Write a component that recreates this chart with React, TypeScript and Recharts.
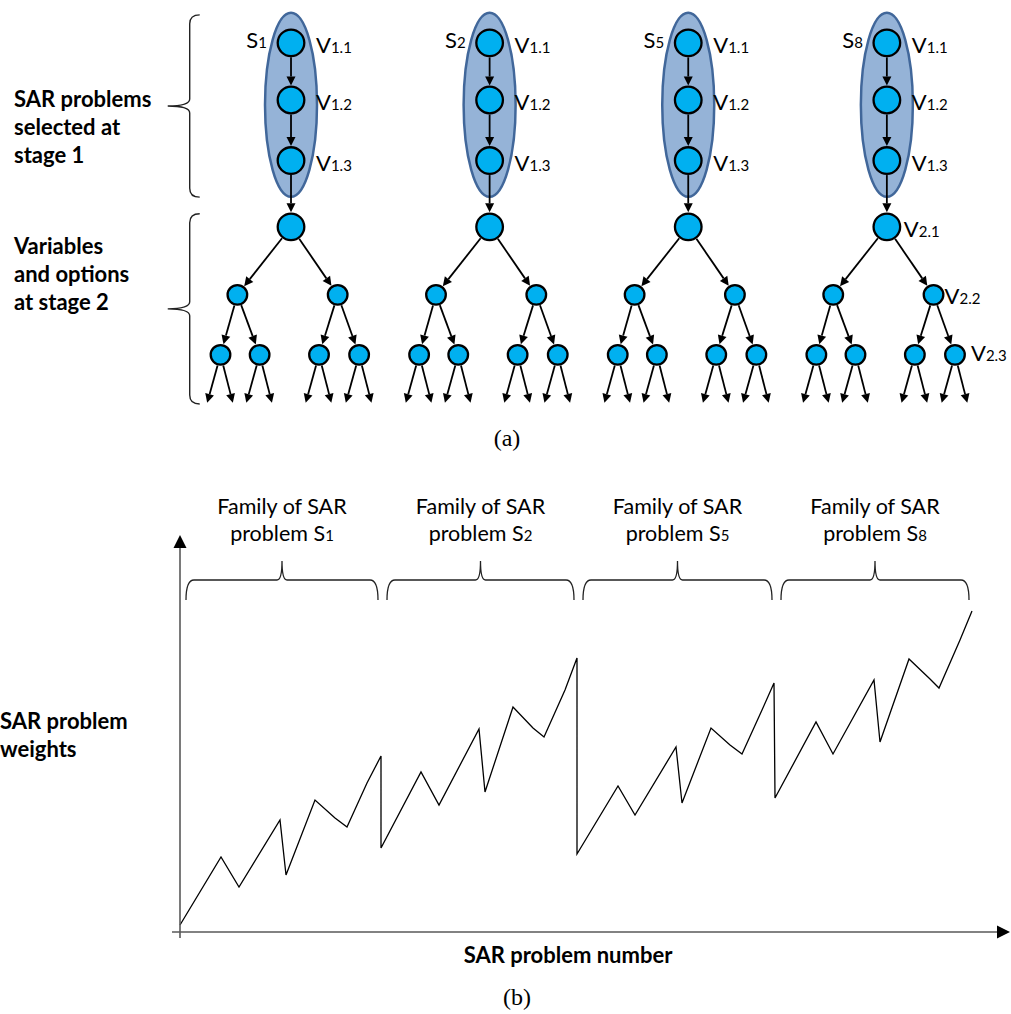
import React from "react";
import { ComposedChart, Scatter, Line, XAxis, YAxis } from "recharts";

// ---- shared labels ----
const FAMILY_IDS = ["1", "2", "5", "8"];
const STAGE1_VARS = ["1.1", "1.2", "1.3"];
const STAGE2_VARS = ["2.1", "2.2", "2.3"];

// ---- panel (b): problem number vs weight ----
const F1_X = [0, 41, 59, 100, 106, 135, 155, 167, 187, 201];
const F1_W = [7, 75, 45, 112, 57, 132, 114, 105, 149, 176];
const F2_X = [201, 241, 259, 299, 305, 333, 353, 364, 385, 397];
const F2_W = [84, 160, 127, 203, 140, 225, 204, 195, 242, 274];
const F3_X = [397, 438, 455, 496, 502, 531, 550, 562, 582, 594];
const F3_W = [78, 146, 117, 185, 129, 204, 187, 178, 222, 249];
const F4_X = [595, 636, 653, 694, 700, 729, 750, 759, 780, 792];
const F4_W = [134, 210, 178, 252, 190, 273, 253, 244, 292, 321];
const FAMILY_START = [0, 201, 397, 595];
const FAMILY_END = [201, 397, 595, 792];

const X_MAX = 830;
const W_MAX = 400;
const BRACE_W = 352;
const Y_ARROW_TOP = 397;

// ---- panel (a): tree layout (x in family spacing, y in rows) ----
const ROW_V1 = [0, 1, 2.06];
const ROW_ROOT = 3.22;
const ROW_L2 = 4.41;
const ROW_L3 = 5.46;
const ROW_LEAF = 6.3;
const ELLIPSE_ROW = 1.085;
const L2_DX = [-0.27, 0.235];
const L3_DX = [
  [-0.355, -0.158],
  [0.141, 0.343],
];
const LEAF_DX = [-0.067, 0.062];
const BRACKET_X = -0.51;
const BRACKET_ROWS = [
  [-0.49, 2.7],
  [2.99, 6.32],
];

const FONT = "Lato, 'Noto Sans', sans-serif";
const SERIF = "'Liberation Serif', 'DejaVu Serif', serif";
const NODE_FILL = "#00b0f0";
const ELLIPSE_FILL = "#95b3d7";
const ELLIPSE_STROKE = "#41679a";

type Pt = { x: number; y: number; r?: number };

// build nodes / edges of each family tree
const nodes: Pt[] = [];
const edgePts: Pt[] = [];
const ellipses: Pt[] = [];
FAMILY_IDS.forEach((_, f) => {
  const v1 = ROW_V1.map((y) => ({ x: f, y, r: 14.5 }));
  const root = { x: f, y: ROW_ROOT, r: 14.5 };
  const l2 = L2_DX.map((dx) => ({ x: f + dx, y: ROW_L2, r: 11 }));
  const l3 = L3_DX.flatMap((g) => g.map((dx) => ({ x: f + dx, y: ROW_L3, r: 11 })));
  ellipses.push({ x: f, y: ELLIPSE_ROW });
  nodes.push(...v1, root, ...l2, ...l3);
  const link = (a: Pt, b: Pt) => edgePts.push(a, b);
  link(v1[0], v1[1]);
  link(v1[1], v1[2]);
  link(v1[2], root);
  l2.forEach((n) => link(root, n));
  l3.forEach((n, i) => link(l2[Math.floor(i / 2)], n));
  l3.forEach((n) => LEAF_DX.forEach((dx) => link(n, { x: n.x + dx, y: ROW_LEAF, r: 0 })));
});

type Lbl = Pt & { main: string; sub: string; dx: number; dy: number; anchor: string };
const labels: Lbl[] = [];
FAMILY_IDS.forEach((id, f) => {
  labels.push({ x: f, y: ROW_V1[0], main: "S", sub: id, dx: -24, dy: -3, anchor: "end" });
  STAGE1_VARS.forEach((v, i) =>
    labels.push({ x: f, y: ROW_V1[i], main: "V", sub: v, dx: 25, dy: 2, anchor: "start" })
  );
});
const LAST = FAMILY_IDS.length - 1;
labels.push({ x: LAST, y: ROW_ROOT, main: "V", sub: STAGE2_VARS[0], dx: 17, dy: 2, anchor: "start" });
labels.push({ x: LAST + L2_DX[1], y: ROW_L2, main: "V", sub: STAGE2_VARS[1], dx: 11, dy: 1, anchor: "start" });
labels.push({ x: LAST + L3_DX[1][1], y: ROW_L3, main: "V", sub: STAGE2_VARS[2], dx: 16, dy: -2, anchor: "start" });

const bracketPts: Pt[] = BRACKET_ROWS.flatMap(([a, b]) => [
  { x: BRACKET_X, y: a },
  { x: BRACKET_X, y: b },
]);

const weightData = [F1_X, F2_X, F3_X, F4_X].flatMap((xs, f) =>
  xs.map((x, i) => ({ x, y: [F1_W, F2_W, F3_W, F4_W][f][i] }))
);
const axisPts: Pt[] = [
  { x: 0, y: 0 },
  { x: X_MAX, y: 0 },
  { x: 0, y: 0 },
  { x: 0, y: Y_ARROW_TOP },
];
const bracePts: Pt[] = FAMILY_START.flatMap((s, i) => [
  { x: s, y: BRACE_W },
  { x: FAMILY_END[i], y: BRACE_W },
]);

type ArrowOpt = { stroke: string; width: number; head: number; half: number; fill: string };
function arrow(a: Pt, b: Pt, r0: number, r1: number, key: string, o: ArrowOpt) {
  const dx = b.x - a.x;
  const dy = b.y - a.y;
  const len = Math.hypot(dx, dy) || 1;
  const ux = dx / len;
  const uy = dy / len;
  const sx = a.x + ux * r0;
  const sy = a.y + uy * r0;
  const tx = b.x - ux * r1;
  const ty = b.y - uy * r1;
  const bx = tx - ux * o.head;
  const by = ty - uy * o.head;
  const nx = -uy * o.half;
  const ny = ux * o.half;
  return (
    <g key={key}>
      <line x1={sx} y1={sy} x2={bx} y2={by} stroke={o.stroke} strokeWidth={o.width} />
      <polygon points={`${tx},${ty} ${bx + nx},${by + ny} ${bx - nx},${by - ny}`} fill={o.fill} />
    </g>
  );
}

const Empty = () => <g />;

const EllipseShape = (p: any) => (
  <ellipse cx={p.cx} cy={p.cy} rx={26} ry={92} fill={ELLIPSE_FILL} stroke={ELLIPSE_STROKE} strokeWidth={2.5} />
);

const NodeShape = (p: any) => (
  <circle cx={p.cx} cy={p.cy} r={p.payload.r - 1.2} fill={NODE_FILL} stroke="#000" strokeWidth={2.3} />
);

const LabelShape = (p: any) => {
  const d = p.payload as Lbl;
  return (
    <text
      x={p.cx + d.dx}
      y={p.cy + d.dy + 8}
      textAnchor={d.anchor as any}
      fontFamily={FONT}
      fontSize={22}
      fill="#000"
    >
      {d.main}
      <tspan fontSize={15}>{d.sub}</tspan>
    </text>
  );
};

const edgeLines = (props: any) => {
  const p: Pt[] = props.points;
  const out = [];
  for (let i = 0; i + 1 < p.length; i += 2) {
    out.push(
      arrow(p[i], p[i + 1], edgePts[i].r ?? 0, edgePts[i + 1].r ?? 0, `e${i}`, {
        stroke: "#000",
        width: 1.8,
        head: 9,
        half: 4.5,
        fill: "#000",
      })
    );
  }
  return <g>{out}</g>;
};

const bracketLines = (props: any) => {
  const p: Pt[] = props.points;
  const out = [];
  for (let i = 0; i + 1 < p.length; i += 2) {
    const x = p[i].x;
    const y0 = p[i].y;
    const y1 = p[i + 1].y;
    const ym = (y0 + y1) / 2;
    const d = `M ${x + 10} ${y0} Q ${x} ${y0} ${x} ${y0 + 9} L ${x} ${ym - 7} Q ${x} ${ym} ${x - 22} ${ym} Q ${x} ${ym} ${x} ${ym + 7} L ${x} ${y1 - 9} Q ${x} ${y1} ${x + 10} ${y1}`;
    out.push(<path key={i} d={d} fill="none" stroke="#222" strokeWidth={1.4} />);
  }
  return <g>{out}</g>;
};

const axisLines = (props: any) => {
  const p: Pt[] = props.points;
  const o = { stroke: "#595959", width: 1.6, head: 13, half: 6.5, fill: "#000" };
  return (
    <g>
      {arrow(p[0], p[1], -8, 0, "ax", o)}
      {arrow(p[2], p[3], -6, 0, "ay", o)}
    </g>
  );
};

const braceLines = (props: any) => {
  const p: Pt[] = props.points;
  const out = [];
  for (let i = 0; i + 1 < p.length; i += 2) {
    const x0 = p[i].x + 6;
    const x1 = p[i + 1].x - 3;
    const y = p[i].y;
    const xc = (x0 + x1) / 2;
    const d = `M ${x0} ${y + 20} Q ${x0} ${y} ${x0 + 8} ${y} L ${xc - 5} ${y} Q ${xc} ${y} ${xc} ${y - 19} Q ${xc} ${y} ${xc + 5} ${y} L ${x1 - 8} ${y} Q ${x1} ${y} ${x1} ${y + 20}`;
    out.push(
      <g key={i}>
        <path d={d} fill="none" stroke="#222" strokeWidth={1.3} />
        <text x={xc} y={y - 66} textAnchor="middle" fontFamily={FONT} fontSize={21.5} fill="#000">
          Family of SAR
        </text>
        <text x={xc} y={y - 39} textAnchor="middle" fontFamily={FONT} fontSize={21.5} fill="#000">
          problem S<tspan fontSize={15}>{FAMILY_IDS[i / 2]}</tspan>
        </text>
      </g>
    );
  }
  return <g>{out}</g>;
};

const boldText: React.CSSProperties = {
  position: "absolute",
  fontFamily: FONT,
  fontWeight: 700,
  fontSize: 22,
  lineHeight: "28px",
  color: "#000",
  whiteSpace: "nowrap",
};

export default function App() {
  return (
    <div style={{ position: "absolute", left: 0, top: 0, width: 1011, height: 1014, background: "#fff" }}>
      <div style={{ position: "absolute", left: 0, top: 0 }}>
        <ComposedChart width={1011} height={420} margin={{ top: 0, right: 1, bottom: 0, left: 5 }}>
          <XAxis type="number" dataKey="x" domain={[-1.44, 3.62]} hide />
          <YAxis type="number" dataKey="y" domain={[-0.75, 6.6]} reversed hide />
          <Scatter data={ellipses} shape={EllipseShape} isAnimationActive={false} />
          <Scatter data={bracketPts} line={bracketLines} shape={Empty} isAnimationActive={false} />
          <Scatter data={edgePts} line={edgeLines} shape={Empty} isAnimationActive={false} />
          <Scatter data={nodes} shape={NodeShape} isAnimationActive={false} />
          <Scatter data={labels} shape={LabelShape} isAnimationActive={false} />
        </ComposedChart>
      </div>

      <div style={{ ...boldText, left: 14, top: 85 }}>
        SAR problems
        <br />
        selected at
        <br />
        stage 1
      </div>
      <div style={{ ...boldText, left: 14, top: 232 }}>
        Variables
        <br />
        and options
        <br />
        at stage 2
      </div>
      <div
        style={{ position: "absolute", left: 457, width: 100, top: 424, textAlign: "center", fontFamily: SERIF, fontSize: 24, lineHeight: "28px" }}
      >
        (a)
      </div>

      <div style={{ position: "absolute", left: 0, top: 440 }}>
        <ComposedChart width={1011} height={574} margin={{ top: 92, right: 1, bottom: 82, left: 180 }}>
          <XAxis type="number" dataKey="x" domain={[0, X_MAX]} hide />
          <YAxis type="number" dataKey="y" domain={[0, W_MAX]} hide />
          <Scatter data={axisPts} line={axisLines} shape={Empty} isAnimationActive={false} />
          <Scatter data={bracePts} line={braceLines} shape={Empty} isAnimationActive={false} />
          <Line
            data={weightData}
            dataKey="y"
            type="linear"
            stroke="#000"
            strokeWidth={1.3}
            dot={false}
            activeDot={false}
            isAnimationActive={false}
          />
        </ComposedChart>
      </div>

      <div style={{ ...boldText, left: 0, top: 707 }}>
        SAR problem
        <br />
        weights
      </div>
      <div style={{ ...boldText, left: 418, width: 300, top: 941, textAlign: "center" }}>SAR problem number</div>
      <div
        style={{ position: "absolute", left: 467, width: 100, top: 983, textAlign: "center", fontFamily: SERIF, fontSize: 24, lineHeight: "28px" }}
      >
        (b)
      </div>
    </div>
  );
}
